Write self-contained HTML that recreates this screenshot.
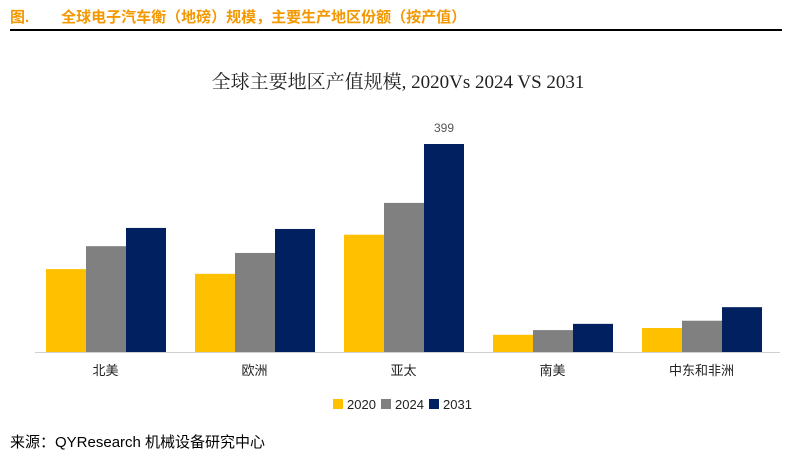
<!DOCTYPE html>
<html><head><meta charset="utf-8"><style>
body{margin:0;width:796px;height:459px;background:#fff;overflow:hidden;font-family:"Liberation Sans","Noto Sans CJK SC",sans-serif}
#hdr{position:absolute;left:10px;top:6px;font-size:15px;font-weight:bold;color:#F39800;white-space:nowrap}
#hdr span{margin-left:32px}
#rule{position:absolute;left:10px;top:29px;width:772px;height:1.5px;background:#000}
#src{position:absolute;left:10px;top:431px;font-size:15px;color:#000}
</style></head><body>
<div id="hdr">图.<span>全球电子汽车衡（地磅）规模，主要生产地区份额（按产值）</span></div>
<div id="rule"></div>
<svg id="chart" width="796" height="459" style="position:absolute;left:0;top:0"></svg>
<div id="src">来源：QYResearch 机械设备研究中心</div>
<script>
const categories=["北美","欧洲","亚太","南美","中东和非洲"];
const series2020=[159,150,225,33,46];
const series2024=[203,190,286,42,60];
const series2031=[238,236,399,54,86];
const seriesNames=["2020","2024","2031"];
const colors=["#FFC000","#808080","#002060"];
const NS="http://www.w3.org/2000/svg";
const svg=document.getElementById('chart');
const x0=31,gw=149,base=352,scale=208/399,bw=40;
function xCat(i){return x0+gw*i;}
function yVal(v){return base-v*scale;}
function mk(t,a){const e=document.createElementNS(NS,t);for(const k in a)e.setAttribute(k,a[k]);svg.appendChild(e);return e;}
let t=mk('text',{x:398,y:88,'text-anchor':'middle','font-size':19,fill:'#222','font-family':'"Liberation Serif","Noto Serif CJK SC",serif'});
t.textContent="全球主要地区产值规模, 2020Vs 2024 VS 2031";


const all=[series2020,series2024,series2031];
categories.forEach((c,i)=>{
  all.forEach((s,j)=>{
    const r=mk('rect',{x:xCat(i)+15+bw*j,y:yVal(s[i]),width:bw,height:base-yVal(s[i]),fill:colors[j]});
    
    
  });
  const l=mk('text',{x:xCat(i)+gw/2,y:375,'text-anchor':'middle','font-size':13,fill:'#222'});
  l.textContent=c;
  
  
});
let mi=series2031.indexOf(Math.max(...series2031));
let ml=mk('text',{x:xCat(mi)+15+bw*2.5,y:yVal(series2031[mi])-12,'text-anchor':'middle','font-size':12,fill:'#555'});
ml.textContent=series2031[mi];


const ax=mk('line',{x1:35,x2:780,y1:base+0.5,y2:base+0.5,stroke:'#d0d0d0','stroke-width':1});


const lx=[333,381,429];
seriesNames.forEach((n,j)=>{
  const r=mk('rect',{x:lx[j],y:399,width:10,height:10,fill:colors[j]});
  
  
  const tx=mk('text',{x:lx[j]+14,y:409,'font-size':13,fill:'#222'});
  tx.textContent=n;
  
  
});
</script>
</body></html>
